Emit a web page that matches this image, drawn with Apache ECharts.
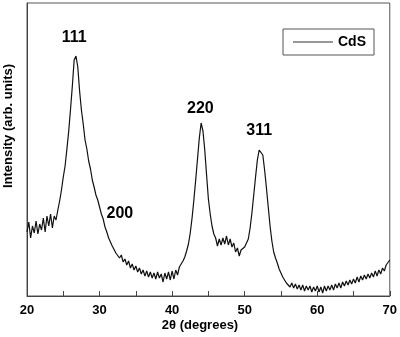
<!DOCTYPE html>
<html><head><meta charset="utf-8">
<script src="https://cdn.jsdelivr.net/npm/echarts@6/dist/echarts.min.js"></script>
<style>html,body{margin:0;padding:0;background:#fff}#c{width:400px;height:337px}</style>
</head><body><div id="c"></div>
<script>
const twoTheta = [
20.00,20.25,20.50,20.75,21.00,21.25,21.50,21.75,22.00,22.25,22.50,22.75,23.00,23.25,23.50,23.75,
24.00,24.25,24.50,24.75,25.00,25.25,25.50,25.75,26.00,26.25,26.50,26.75,27.00,27.25,27.50,27.75,
28.00,28.25,28.50,28.75,29.00,29.25,29.50,29.75,30.00,30.25,30.50,30.75,31.00,31.25,31.50,31.75,
32.00,32.25,32.50,32.75,33.00,33.25,33.50,33.75,34.00,34.25,34.50,34.75,35.00,35.25,35.50,35.75,
36.00,36.25,36.50,36.75,37.00,37.25,37.50,37.75,38.00,38.25,38.50,38.75,39.00,39.25,39.50,39.75,
40.00,40.25,40.50,40.75,41.00,41.25,41.50,41.75,42.00,42.25,42.50,42.75,43.00,43.25,43.50,43.75,
44.00,44.25,44.50,44.75,45.00,45.25,45.50,45.75,46.00,46.25,46.50,46.75,47.00,47.25,47.50,47.75,
48.00,48.25,48.50,48.75,49.00,49.25,49.50,49.75,50.00,50.25,50.50,50.75,51.00,51.25,51.50,51.75,
52.00,52.25,52.50,52.75,53.00,53.25,53.50,53.75,54.00,54.25,54.50,54.75,55.00,55.25,55.50,55.75,
56.00,56.25,56.50,56.75,57.00,57.25,57.50,57.75,58.00,58.25,58.50,58.75,59.00,59.25,59.50,59.75,
60.00,60.25,60.50,60.75,61.00,61.25,61.50,61.75,62.00,62.25,62.50,62.75,63.00,63.25,63.50,63.75,
64.00,64.25,64.50,64.75,65.00,65.25,65.50,65.75,66.00,66.25,66.50,66.75,67.00,67.25,67.50,67.75,
68.00,68.25,68.50,68.75,69.00,69.25,69.50,69.75,70.00
];
const intensity = [
64,74,58,70,63,75,62,72,66,78,64,80,70,82,68,80,
76,86,95,106,119,130,147,165,187,210,236,240,229,205,186,172,
156,147,135,127,116,109,101,96,89,82,77,69,64,58,56,50,
49,43,45,38,41,34,37,31,35,28,32,26,30,24,28,22,
26,20,25,19,24,18,23,17,24,18,22,14,23,17,24,16,
25,17,26,21,29,27,35,39,45,52,63,78,96,116,137,158,
173,165,146,121,97,82,70,62,58,50,57,51,58,52,60,51,
57,49,53,44,48,40,46,45,49,51,57,68,83,101,119,136,
146,148,141,126,108,89,70,55,44,38,33,27,25,19,19,13,
15,9,13,8,12,7,11,6,11,5,10,6,10,4,9,5,
10,4,9,3,10,5,10,6,11,6,12,8,13,8,14,10,
15,11,16,12,17,13,19,14,20,16,21,17,22,18,23,19,
25,20,26,22,28,25,31,29,36
];
const xTicks = [20,30,40,50,60,70];
const peakNames = ['111','200','220','311'];
const peakTheta = [26.5,32.8,43.9,52.0];
const peakLabelY = [258,82,187,165];
const seriesName = 'CdS';

const chart = echarts.init(document.getElementById('c'), null, {renderer:'canvas'});
const font = 'Arial, "Liberation Sans", sans-serif';
chart.setOption({
  animation:false,
  grid:{left:27,right:9,top:3,bottom:41,show:true,borderColor:'#555',borderWidth:1,backgroundColor:'transparent'},
  legend:{
    left:283, top:29, orient:'vertical',
    data:[{name:seriesName, icon:'rect'}],
    itemWidth:40, itemHeight:1, itemGap:0,
    padding:[6,8,6,10],
    borderColor:'#555', borderWidth:1, borderRadius:0,
    textStyle:{fontFamily:font,fontWeight:'bold',fontSize:14,color:'#000'}
  },
  xAxis:{
    type:'value', min:20, max:70, interval:10,
    axisLine:{lineStyle:{color:'#444',width:1}},
    axisTick:{inside:true,length:5,lineStyle:{color:'#444'}},
    minorTick:{show:true,splitNumber:2,length:5,lineStyle:{color:'#444'}},
    splitLine:{show:false},
    axisLabel:{margin:8,fontFamily:font,fontWeight:'bold',fontSize:13,color:'#000',
      formatter:v=>xTicks.includes(v)?String(v):''}
  },
  yAxis:{
    type:'value', min:0, max:293,
    axisLine:{show:true,lineStyle:{color:'#444'}},
    axisTick:{show:false}, axisLabel:{show:false}, splitLine:{show:false}
  },
  graphic:[
    {type:'text',left:'center',top:319,style:{text:'2θ (degrees)',font:'bold 13px '+font,fill:'#000'},x:-8},
    {type:'text',rotation:Math.PI/2,x:2,y:126,style:{text:'Intensity (arb. units)',font:'bold 13px '+font,fill:'#000',align:'center',verticalAlign:'top'}}
  ],
  series:[
    {name:seriesName,type:'line',data:twoTheta.map((t,i)=>[t,intensity[i]]),
     symbol:'none',lineStyle:{color:'#111',width:1.2},itemStyle:{color:'#333'}},
    {type:'scatter',symbolSize:0,silent:true,itemStyle:{opacity:1},
     data:peakNames.map((n,i)=>({value:[peakTheta[i],peakLabelY[i]],name:n})),
     label:{show:true,position:'inside',formatter:p=>p.name,fontFamily:font,fontWeight:'bold',fontSize:16,color:'#000'}}
  ]
});
</script></body></html>
